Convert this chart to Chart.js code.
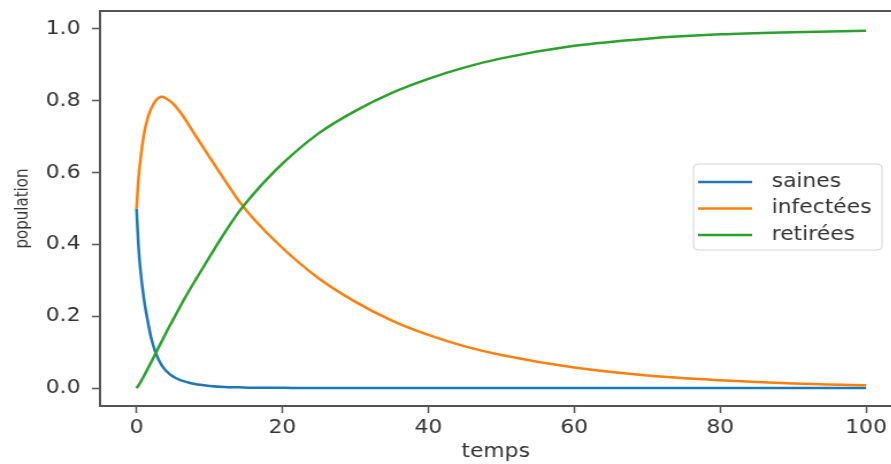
<!DOCTYPE html>
<html>
<head>
<meta charset="utf-8">
<script src="https://cdn.jsdelivr.net/npm/chart.js@4/dist/chart.umd.min.js"></script>
<style>
    html, body { margin: 0; padding: 0; overflow: hidden; background: #fff; }
    /* the reference is a horizontally stretched matplotlib figure */
    #sirChart { display: block; transform: scaleX(1.15); transform-origin: 0 0; }
</style>
</head>
<body>
<canvas id="sirChart" width="775" height="464"></canvas>
<script>
// Data
const temps = [0, 0.25, 0.5, 1, 1.5, 2, 2.5, 3, 3.5, 4, 5, 6, 7, 8, 10, 12, 14, 16, 20, 25, 30, 35, 40, 45, 50, 60, 70, 80, 90, 100];
const saines = [0.5, 0.40, 0.335, 0.25, 0.19, 0.14, 0.105, 0.08, 0.062, 0.049, 0.032, 0.022, 0.016, 0.011, 0.006, 0.003, 0.002, 0.001, 0.0005, 0, 0, 0, 0, 0, 0, 0, 0, 0, 0, 0];
const infectees = [0.5, 0.58, 0.63, 0.705, 0.75, 0.778, 0.797, 0.808, 0.811, 0.807, 0.792, 0.768, 0.738, 0.706, 0.643, 0.582, 0.522, 0.472, 0.39, 0.305, 0.24, 0.188, 0.148, 0.116, 0.092, 0.057, 0.035, 0.022, 0.013, 0.008];
const retirees = [0, 0.007, 0.015, 0.033, 0.052, 0.072, 0.092, 0.112, 0.132, 0.152, 0.19, 0.228, 0.264, 0.298, 0.365, 0.43, 0.49, 0.54, 0.625, 0.71, 0.772, 0.822, 0.861, 0.893, 0.918, 0.953, 0.973, 0.985, 0.991, 0.995];
const xTicks = [0, 20, 40, 60, 80, 100];
const yTicks = [0.0, 0.2, 0.4, 0.6, 0.8, 1.0];

const FONT = 'DejaVu Sans';
const TEXT = '#333';
const SPINE = '#555';

function toPoints(ys) {
    return temps.map(function(t, i) { return { x: t, y: ys[i] }; });
}

function lineSet(label, ys, color, order) {
    return {
        label: label,
        data: toPoints(ys),
        borderColor: color,
        backgroundColor: color,
        borderWidth: 2.5,
        pointRadius: 0,
        cubicInterpolationMode: 'monotone',
        order: order
    };
}

// no extra room for the edge labels: keep the plot box fixed
function noEdgePadding(scale) {
    scale.paddingTop = 0;
    scale.paddingBottom = 0;
    scale.paddingLeft = 0;
    scale.paddingRight = 0;
}

// Top spine + matplotlib-like legend box
const framePlugin = {
    id: 'frame',
    afterDatasetsDraw: function(chart) {
        const ctx = chart.ctx;
        const a = chart.chartArea;
        ctx.save();
        ctx.strokeStyle = SPINE;
        ctx.lineWidth = 2;
        ctx.beginPath();
        ctx.moveTo(a.left, a.top);
        ctx.lineTo(a.right, a.top);
        ctx.stroke();

        // legend
        const bx = 603, by = 164, bw = 164, bh = 86;
        ctx.fillStyle = 'rgba(255,255,255,0.85)';
        ctx.strokeStyle = '#d4d4d4';
        ctx.lineWidth = 1;
        ctx.beginPath();
        ctx.roundRect(bx, by, bw, bh, 4);
        ctx.fill();
        ctx.stroke();

        const rows = [182, 208.5, 235];
        ctx.font = '19px "' + FONT + '"';
        ctx.textBaseline = 'middle';
        ctx.textAlign = 'left';
        chart.data.datasets.forEach(function(ds, i) {
            ctx.strokeStyle = ds.borderColor;
            ctx.lineWidth = 2.5;
            ctx.beginPath();
            ctx.moveTo(607, rows[i]);
            ctx.lineTo(654, rows[i]);
            ctx.stroke();
            ctx.fillStyle = TEXT;
            ctx.fillText(ds.label, 671, rows[i]);
        });
        ctx.restore();
    }
};

const ctx = document.getElementById('sirChart').getContext('2d');
const sirChart = new Chart(ctx, {
    type: 'line',
    data: {
        datasets: [
            lineSet('saines', saines, '#1f77b4', 3),
            lineSet('infectées', infectees, '#ff7f0e', 2),
            lineSet('retirées', retirees, '#2ca02c', 1)
        ]
    },
    options: {
        responsive: false,
        animation: false,
        devicePixelRatio: 1,
        layout: { padding: { left: 0, top: 11, right: 0, bottom: 0 } },
        plugins: {
            legend: { display: false },
            tooltip: { enabled: false }
        },
        scales: {
            x: {
                type: 'linear',
                min: -5,
                max: 103.45,   // reference is cropped before the right spine
                afterBuildTicks: function(scale) {
                    scale.ticks = xTicks.map(function(v) { return { value: v }; });
                },
                afterFit: function(scale) {
                    scale.height = 58;
                    noEdgePadding(scale);
                },
                ticks: {
                    font: { family: FONT, size: 19 },
                    color: TEXT,
                    padding: 4,
                    maxRotation: 0,
                    callback: function(v) { return String(v); }
                },
                grid: {
                    drawOnChartArea: false,
                    drawTicks: true,
                    tickLength: 7,
                    tickColor: SPINE,
                    tickWidth: 1.5
                },
                border: { color: SPINE, width: 2 },
                title: {
                    display: true,
                    text: 'temps',
                    font: { family: FONT, size: 19 },
                    color: TEXT,
                    padding: { top: 0, bottom: 1 }
                }
            },
            y: {
                type: 'linear',
                min: -0.05,
                max: 1.05,
                afterBuildTicks: function(scale) {
                    scale.ticks = yTicks.map(function(v) { return { value: v }; });
                },
                afterFit: function(scale) {
                    scale.width = 87;
                    noEdgePadding(scale);
                },
                ticks: {
                    font: { family: FONT, size: 19 },
                    color: TEXT,
                    padding: 10,
                    callback: function(v) { return Number(v).toFixed(1); }
                },
                grid: {
                    drawOnChartArea: false,
                    drawTicks: true,
                    tickLength: 7,
                    tickColor: SPINE,
                    tickWidth: 1.5
                },
                border: { color: SPINE, width: 2 },
                title: {
                    display: true,
                    text: 'population',
                    font: { family: FONT, size: 15 },
                    color: TEXT,
                    padding: { top: 11, bottom: 0 }
                }
            }
        }
    },
    plugins: [framePlugin]
});
</script>
</body>
</html>
